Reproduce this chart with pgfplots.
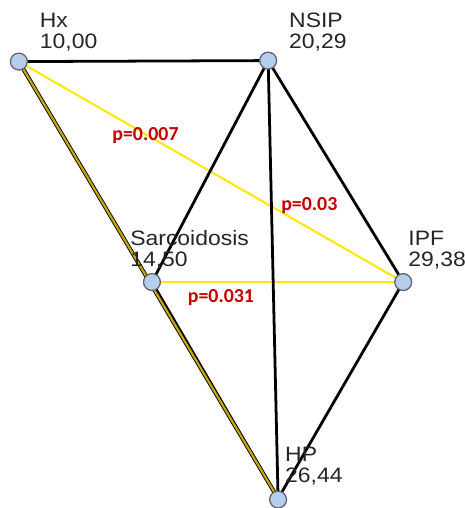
\documentclass[border=0pt]{standalone}
\usepackage{fontspec}
\setmainfont{Liberation Sans}
\newfontfamily\pfont{Carlito}
\usepackage{pgfplots}
\pgfplotsset{compat=1.18}
\definecolor{nodefill}{RGB}{180,206,236}
\definecolor{nodeedge}{RGB}{95,100,110}
\definecolor{sigyellow}{RGB}{255,232,0}
\definecolor{olive}{RGB}{200,168,0}
\definecolor{pred}{RGB}{200,0,0}
\newcommand{\lbl}[1]{\scalebox{1.1}[1]{#1}}
\begin{document}
\begin{tikzpicture}
\begin{axis}[
  scale only axis, width=468pt, height=508pt,
  xmin=0, xmax=468, ymin=0, ymax=508, y dir=reverse,
  hide axis, axis background/.style={fill=white},
]
% significant (yellow) links
\addplot[sigyellow, line width=2pt] coordinates {(19,62)(406,284)};
\addplot[sigyellow, line width=2pt] coordinates {(153,284)(406,284)};
% black links
\addplot[black, line width=2.8pt] coordinates {(19,62)(270,61)};
\addplot[black, line width=2.8pt] coordinates {(270,61)(153,284)};
\addplot[black, line width=2.8pt] coordinates {(270,61)(280,502)};
\addplot[black, line width=2.8pt] coordinates {(270,61)(406,284)};
\addplot[black, line width=2.8pt] coordinates {(153,284)(280,502)};
\addplot[black, line width=2.8pt] coordinates {(406,284)(280,502)};
% Hx -- HP (black under gold)
\addplot[black, line width=4pt] coordinates {(19,62)(280,502)};
\addplot[olive, line width=2.2pt] coordinates {(19,62)(280,502)};
% nodes
\addplot[only marks, mark=*, mark size=8.5pt,
  mark options={fill=nodefill, draw=nodeedge, line width=1.3pt}]
  coordinates {(19,62)(270,61)(153,284)(406,284)(280,503)};
% labels
\begin{scope}[every node/.style={anchor=base west, inner sep=0pt, font=\fontsize{21}{21}\selectfont, text=black!85}]
\node at (axis cs:40,28) {\lbl{Hx}};
\node at (axis cs:40,49) {\lbl{10,00}};
\node at (axis cs:291,28) {\lbl{NSIP}};
\node at (axis cs:291,49) {\lbl{20,29}};
\node at (axis cs:131,247) {\lbl{Sarcoidosis}};
\node at (axis cs:131,268) {\lbl{14,50}};
\node at (axis cs:411,247) {\lbl{IPF}};
\node at (axis cs:411,268) {\lbl{29,38}};
\node at (axis cs:287,465) {\lbl{HP}};
\node at (axis cs:287,486) {\lbl{26,44}};
\end{scope}
\begin{scope}[every node/.style={anchor=base west, inner sep=0pt, font=\pfont\bfseries\fontsize{20}{20}\selectfont, text=pred}]
\node at (axis cs:113,141) {p=0.007};
\node at (axis cs:283,212) {p=0.03};
\node at (axis cs:189,305) {p=0.031};
\end{scope}
\end{axis}
\end{tikzpicture}
\end{document}
